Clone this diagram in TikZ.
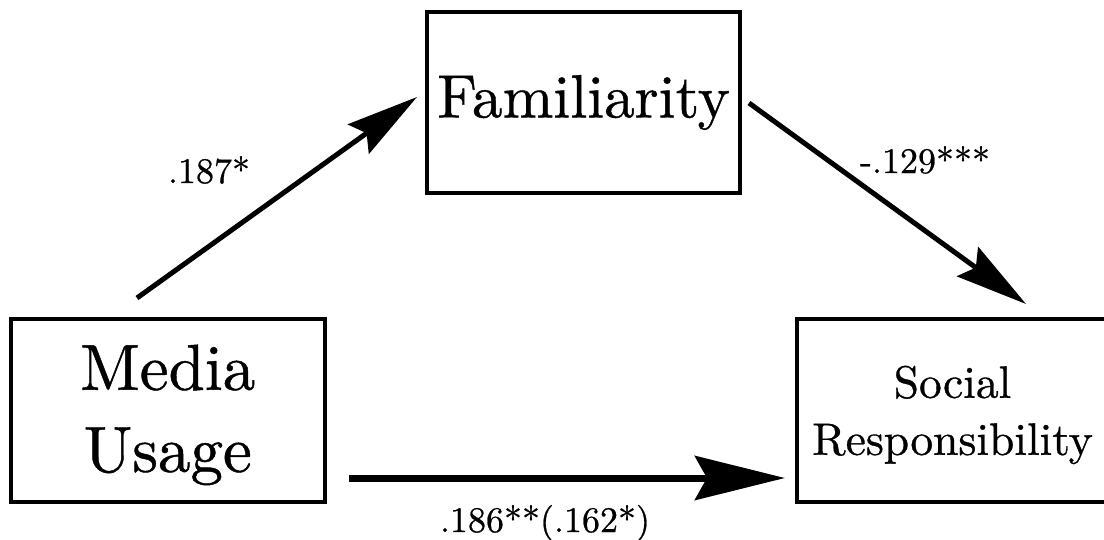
\documentclass[tikz,border=0pt]{standalone}
\usepackage{fontspec}
\setmainfont{lmroman10-regular.otf}[FakeBold=0.7]
\usetikzlibrary{arrows.meta,calc}
\begin{document}
\begin{tikzpicture}[x=1pt,y=-1pt,
  box/.style={draw, line width=4pt, inner sep=0pt, outer sep=0pt, align=center},
  famfont/.style={font=\rmfamily\fontsize{61}{82}\selectfont},
  mediafont/.style={font=\rmfamily\fontsize{65}{82}\selectfont},
  midfont/.style={font=\rmfamily\fontsize{45.5}{57}\selectfont},
  coef/.style={font=\rmfamily\fontsize{36}{43}\selectfont, anchor=base, inner sep=0pt},
  diagarrow/.style={line width=5pt, -{Stealth[length=72pt,width=36pt,inset=10pt]}},
  horarrow/.style={line width=7pt, -{Stealth[length=90pt,width=44pt,inset=12pt]}}]
\useasboundingbox (0,0) rectangle (1104,539);
\clip (0,0) rectangle (1104,539);
\node[box,famfont,minimum width=313pt,minimum height=181pt] (fam) at (583.5,102.5) {Familiarity};
\node[box,mediafont,minimum width=314.5pt,minimum height=183pt] (media) at (167.75,410.5) {\rule{0pt}{54pt}Media\\Usage};
\node[box,midfont,minimum width=311pt,minimum height=183pt] (social) at (952.5,410.5) {\rule{0pt}{41pt}Social\\Responsibility};
\draw[diagarrow] ([shift={(-30.75,-21)}]media.north) -- ([shift={(-10,-5.5)}]fam.west);
\draw[diagarrow] ([shift={(9,0.5)}]fam.east) -- ([shift={(73.5,-15)}]social.north);
\draw[horarrow] ([shift={(24,67.5)}]media.east) -- ([shift={(-12,67.5)}]social.west);
\node[coef] (c1) at (209,183) {.187*};
\node[coef] (c2) at (925,173) {-.129***};
\node[coef] (c3) at (545,532) {.186**(.162*)};
\end{tikzpicture}
\end{document}
